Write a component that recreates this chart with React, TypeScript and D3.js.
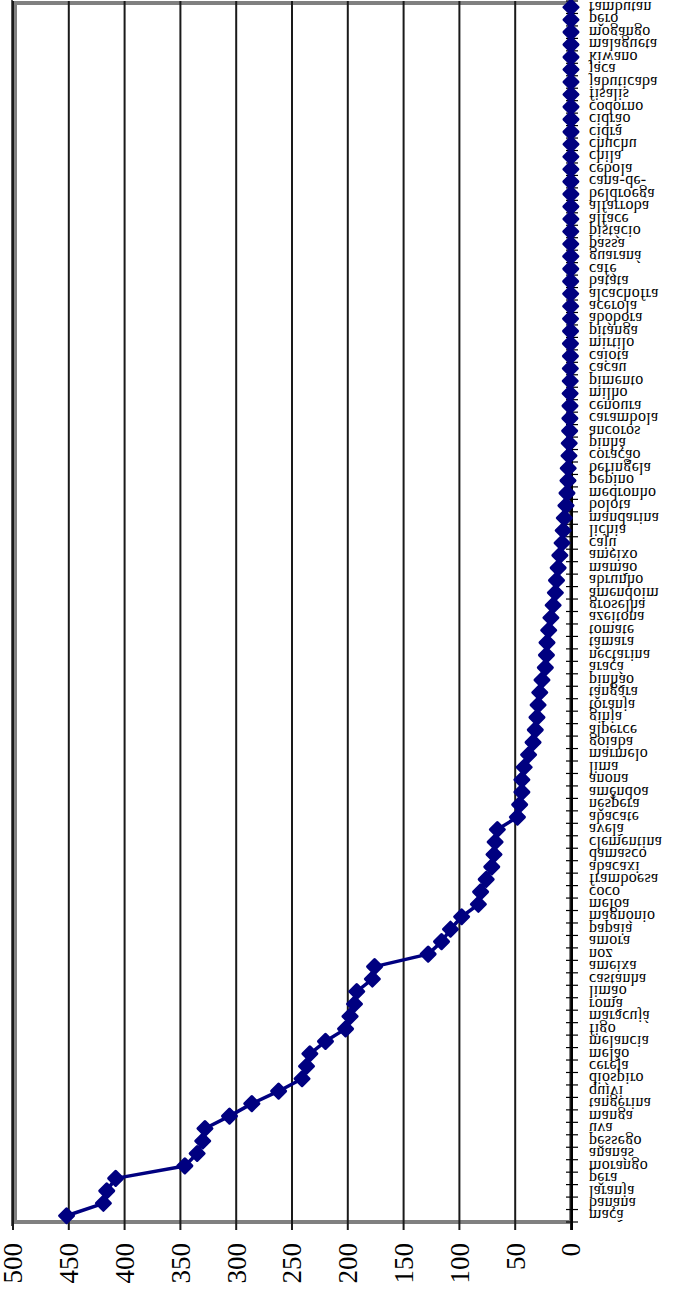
import React from "react";
import * as d3 from "d3";

// Categories, listed from the bottom of the axis upwards
const categories = [
  "maçã", "banana", "laranja", "pêra", "morango", "ananás", "pêssego", "uva", "manga", "tangerina",
  "quivi", "dióspiro", "cereja", "melão", "melancia", "figo", "maracujá", "romã", "limão", "castanha",
  "ameixa", "noz", "amora", "papaia", "magnónio", "meloa", "coco", "framboesa", "abacaxi", "damasco",
  "clementina", "avelã", "abacate", "nêspera", "amêndoa", "anona", "lima", "marmelo", "goiaba", "alperce",
  "ginja", "toranja", "tângara", "pinhão", "araçá", "nectarina", "tâmara", "tomate", "azeitona", "groselha",
  "amendoim", "abrunho", "mamão", "ameixo", "cajú", "lichia", "mandarina", "bolota", "medronho", "pepino",
  "beringela", "coração", "pinha", "ancoros", "carambola", "cenoura", "milho", "pimento", "cacau", "caiota",
  "mirtilo", "pitanga", "abóbora", "acerola", "alcachofra", "batata", "café", "guaraná", "passa", "pistácio",
  "alface", "alfarroba", "beldroega", "cana-de-", "cebola", "chila", "chuchu", "cidra", "cidrão", "codorno",
  "fisalis", "jabuticaba", "jaca", "kiwano", "malagueta", "mogango", "pêro", "rambutan",
];

const values = [
  452, 419, 416, 408, 346, 335, 330, 328, 306, 286,
  262, 241, 237, 234, 220, 202, 198, 194, 192, 178,
  176, 128, 116, 108, 98, 83, 81, 76, 71, 69,
  68, 66, 48, 46, 44, 44, 42, 38, 34, 32,
  30.5, 29.5, 28, 26, 23, 22, 21.5, 20, 18, 16,
  14, 13, 11.5, 10, 8, 7, 6, 4.5, 3.6, 2.7,
  2.5, 1.8, 1.6, 1.2, 1.0, 0.9, 0.8, 0.7, 0.6, 0.5,
  0.5, 0.4, 0.4, 0.3, 0.3, 0.3, 0.2, 0.2, 0.2, 0.2,
  0.1, 0.1, 0.1, 0.1, 0.1, 0.1, 0, 0, 0, 0,
  0, 0, 0, 0, 0, 0, 0, 0,
];

const valueTicks = [0, 50, 100, 150, 200, 250, 300, 350, 400, 450, 500];

const NAVY = "#000080";

export default function App() {
  const W = 700;
  const H = 1315;
  const left = 13;
  const right = 571;
  const top = 1;
  const bottom = 1222;

  const x = d3.scaleLinear().domain([0, 500]).range([right, left]);
  const y = d3.scaleBand<string>().domain(categories).range([bottom, top]).padding(0);
  const cy = (c: string) => (y(c) as number) + y.bandwidth() / 2;

  const pts = values.map((v, i) => [x(v), cy(categories[i])] as [number, number]);
  const linePath = d3.line()(pts) as string;

  const r = 7;
  const diamond = `M0,${-r}L${r},0L0,${r}L${-r},0Z`;

  const boundaries = d3.range(categories.length + 1).map((i) => bottom - i * y.bandwidth());

  return (
    <svg
      width={W}
      height={H}
      style={{ position: "absolute", left: 0, top: 0, background: "#fff" }}
      fontFamily="'Liberation Serif', 'Times New Roman', serif"
    >
      {/* plot area frame */}
      <rect
        x={left + 2}
        y={top + 2}
        width={right - left - 2}
        height={bottom - top - 2}
        fill="#fff"
        stroke="#808080"
        strokeWidth={4}
      />
      <line x1={left - 1} x2={left - 1} y1={0} y2={bottom + 4} stroke="#222" strokeWidth={1.5} />

      {/* value gridlines and ticks */}
      {valueTicks.map((t) => (
        <line
          key={"g" + t}
          x1={x(t)}
          x2={x(t)}
          y1={top}
          y2={bottom + 8}
          stroke="#1a1a1a"
          strokeWidth={2}
        />
      ))}

      {/* value labels */}
      {valueTicks.map((t) => (
        <text
          key={"l" + t}
          transform={`translate(${x(t)},1243) rotate(-90)`}
          textAnchor="end"
          dy="0.35em"
          fontSize={27}
          fill="#000"
        >
          {t}
        </text>
      ))}

      {/* category axis */}
      <line x1={right + 1} x2={right + 1} y1={top} y2={bottom + 8} stroke="#000" strokeWidth={2} />
      {boundaries.map((b, i) => (
        <line key={"t" + i} x1={right - 5} x2={right + 7} y1={b} y2={b} stroke="#000" strokeWidth={1.2} />
      ))}

      {/* category labels */}
      {categories.map((c) => (
        <text
          key={"c" + c}
          transform={`translate(589,${cy(c)}) scale(1,-1)`}
          dy="0.33em"
          fontSize={16}
          letterSpacing={0.3}
          fill="#000"
        >
          {c}
        </text>
      ))}

      {/* series */}
      <path d={linePath} fill="none" stroke={NAVY} strokeWidth={3.5} strokeLinejoin="round" />
      {pts.map(([px, py], i) => (
        <path
          key={"m" + i}
          d={diamond}
          transform={`translate(${px},${py})`}
          fill={NAVY}
          stroke={NAVY}
          strokeWidth={3}
          strokeLinejoin="round"
        />
      ))}
    </svg>
  );
}
